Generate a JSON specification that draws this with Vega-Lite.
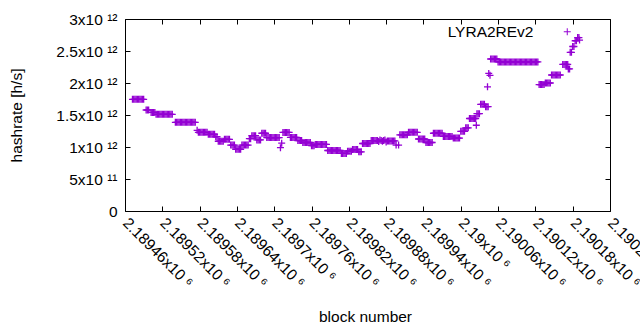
{
"$schema": "https://vega.github.io/schema/vega-lite/v6.json",
"width": 485, "height": 192,
"autosize": "none",
"padding": {"left": 125, "top": 19, "right": 30, "bottom": 119},
"background": "white",
"config": {"view": {"stroke": "#000", "strokeWidth": 1}, "font": "Liberation Sans",
  "axis": {"labelFont": "Liberation Sans", "titleFont": "Liberation Sans", "labelFontSize": 15.5, "titleFontSize": 15.5, "titleFontWeight": "normal", "labelColor": "#000", "titleColor": "#000", "tickColor": "#000", "grid": false, "domain": false},
  "legend": {"labelFont": "Liberation Sans", "labelFontSize": 15.5, "labelColor": "#000"}},
"data": {"values": [
{"b":2189472,"h":1.745e12},{"b":2189474,"h":1.745e12},{"b":2189476,"h":1.745e12},{"b":2189478,"h":1.745e12},{"b":2189480,"h":1.745e12},{"b":2189482,"h":1.745e12},{"b":2189484,"h":1.745e12},{"b":2189486,"h":1.745e12},{"b":2189488,"h":1.745e12},{"b":2189490,"h":1.745e12},
{"b":2189494,"h":1.578e12},{"b":2189496,"h":1.578e12},{"b":2189498,"h":1.578e12},
{"b":2189502,"h":1.54e12},{"b":2189504,"h":1.54e12},{"b":2189506,"h":1.54e12},{"b":2189508,"h":1.54e12},
{"b":2189510,"h":1.51e12},{"b":2189512,"h":1.51e12},{"b":2189514,"h":1.51e12},{"b":2189516,"h":1.51e12},{"b":2189518,"h":1.51e12},{"b":2189520,"h":1.51e12},{"b":2189522,"h":1.51e12},{"b":2189524,"h":1.51e12},{"b":2189526,"h":1.51e12},{"b":2189528,"h":1.51e12},{"b":2189530,"h":1.51e12},{"b":2189532,"h":1.51e12},{"b":2189534,"h":1.51e12},{"b":2189536,"h":1.51e12},
{"b":2189541,"h":1.385e12},{"b":2189543,"h":1.385e12},{"b":2189545,"h":1.385e12},{"b":2189547,"h":1.385e12},{"b":2189549,"h":1.385e12},{"b":2189551,"h":1.385e12},{"b":2189553,"h":1.385e12},{"b":2189555,"h":1.385e12},{"b":2189557,"h":1.385e12},{"b":2189559,"h":1.385e12},{"b":2189561,"h":1.385e12},{"b":2189563,"h":1.385e12},{"b":2189565,"h":1.385e12},{"b":2189567,"h":1.385e12},{"b":2189569,"h":1.385e12},{"b":2189571,"h":1.385e12},{"b":2189573,"h":1.385e12},
{"b":2189576,"h":1.26e12},
{"b":2189578,"h":1.23e12},{"b":2189580,"h":1.23e12},{"b":2189582,"h":1.23e12},{"b":2189584,"h":1.23e12},{"b":2189586,"h":1.23e12},{"b":2189588,"h":1.23e12},{"b":2189590,"h":1.23e12},{"b":2189592,"h":1.23e12},
{"b":2189594,"h":1.198e12},{"b":2189596,"h":1.198e12},{"b":2189598,"h":1.198e12},{"b":2189600,"h":1.198e12},{"b":2189602,"h":1.198e12},{"b":2189604,"h":1.198e12},
{"b":2189606,"h":1.16e12},{"b":2189608,"h":1.16e12},
{"b":2189610,"h":1.09e12},{"b":2189612,"h":1.09e12},{"b":2189614,"h":1.09e12},{"b":2189616,"h":1.09e12},{"b":2189618,"h":1.09e12},
{"b":2189620,"h":1.12e12},{"b":2189622,"h":1.12e12},{"b":2189624,"h":1.12e12},{"b":2189626,"h":1.12e12},{"b":2189628,"h":1.12e12},
{"b":2189630,"h":1.03e12},{"b":2189632,"h":1.03e12},{"b":2189634,"h":1.03e12},{"b":2189636,"h":1.03e12},
{"b":2189638,"h":0.965e12},{"b":2189640,"h":0.965e12},{"b":2189642,"h":0.965e12},{"b":2189644,"h":0.965e12},{"b":2189646,"h":0.965e12},
{"b":2189648,"h":1.03e12},{"b":2189650,"h":1.03e12},{"b":2189652,"h":1.03e12},{"b":2189654,"h":1.03e12},{"b":2189656,"h":1.03e12},{"b":2189658,"h":1.03e12},
{"b":2189660,"h":1.13e12},{"b":2189662,"h":1.13e12},
{"b":2189664,"h":1.177e12},{"b":2189666,"h":1.177e12},{"b":2189668,"h":1.177e12},{"b":2189670,"h":1.177e12},
{"b":2189672,"h":1.11e12},{"b":2189674,"h":1.11e12},{"b":2189676,"h":1.11e12},{"b":2189678,"h":1.11e12},
{"b":2189680,"h":1.215e12},{"b":2189682,"h":1.215e12},{"b":2189684,"h":1.215e12},{"b":2189686,"h":1.215e12},
{"b":2189688,"h":1.148e12},{"b":2189690,"h":1.148e12},{"b":2189692,"h":1.148e12},{"b":2189694,"h":1.148e12},{"b":2189696,"h":1.148e12},{"b":2189698,"h":1.148e12},{"b":2189700,"h":1.148e12},{"b":2189702,"h":1.148e12},{"b":2189704,"h":1.148e12},{"b":2189706,"h":1.148e12},{"b":2189708,"h":1.148e12},
{"b":2189710,"h":0.99e12},{"b":2189712,"h":1.06e12},
{"b":2189714,"h":1.228e12},{"b":2189716,"h":1.228e12},{"b":2189718,"h":1.228e12},{"b":2189720,"h":1.228e12},{"b":2189722,"h":1.228e12},{"b":2189724,"h":1.228e12},
{"b":2189726,"h":1.15e12},{"b":2189728,"h":1.15e12},{"b":2189730,"h":1.15e12},{"b":2189732,"h":1.15e12},{"b":2189734,"h":1.15e12},{"b":2189736,"h":1.15e12},
{"b":2189738,"h":1.1e12},{"b":2189740,"h":1.1e12},{"b":2189742,"h":1.1e12},{"b":2189744,"h":1.1e12},
{"b":2189746,"h":1.07e12},{"b":2189748,"h":1.07e12},{"b":2189750,"h":1.07e12},{"b":2189752,"h":1.07e12},{"b":2189754,"h":1.07e12},{"b":2189756,"h":1.07e12},{"b":2189758,"h":1.07e12},
{"b":2189760,"h":1.02e12},{"b":2189762,"h":1.02e12},{"b":2189764,"h":1.02e12},
{"b":2189766,"h":1.04e12},{"b":2189768,"h":1.04e12},{"b":2189770,"h":1.04e12},{"b":2189772,"h":1.04e12},{"b":2189774,"h":1.04e12},{"b":2189776,"h":1.04e12},{"b":2189778,"h":1.04e12},{"b":2189780,"h":1.04e12},{"b":2189782,"h":1.04e12},{"b":2189784,"h":1.04e12},
{"b":2189786,"h":0.945e12},{"b":2189788,"h":0.945e12},{"b":2189790,"h":0.945e12},{"b":2189792,"h":0.945e12},{"b":2189794,"h":0.945e12},{"b":2189796,"h":0.945e12},{"b":2189798,"h":0.945e12},{"b":2189800,"h":0.945e12},{"b":2189802,"h":0.945e12},{"b":2189804,"h":0.945e12},{"b":2189806,"h":0.945e12},
{"b":2189808,"h":0.9e12},{"b":2189810,"h":0.9e12},{"b":2189812,"h":0.9e12},{"b":2189814,"h":0.9e12},{"b":2189816,"h":0.9e12},
{"b":2189818,"h":0.935e12},{"b":2189820,"h":0.935e12},{"b":2189822,"h":0.935e12},{"b":2189824,"h":0.935e12},
{"b":2189826,"h":0.96e12},{"b":2189828,"h":0.96e12},{"b":2189830,"h":0.96e12},{"b":2189832,"h":0.96e12},{"b":2189834,"h":0.96e12},
{"b":2189836,"h":0.925e12},{"b":2189838,"h":0.925e12},{"b":2189840,"h":0.925e12},
{"b":2189842,"h":1.055e12},{"b":2189844,"h":1.055e12},{"b":2189846,"h":1.055e12},{"b":2189848,"h":1.055e12},{"b":2189850,"h":1.055e12},{"b":2189852,"h":1.055e12},{"b":2189854,"h":1.055e12},
{"b":2189856,"h":1.1e12},{"b":2189858,"h":1.1e12},{"b":2189860,"h":1.1e12},{"b":2189862,"h":1.1e12},{"b":2189864,"h":1.1e12},
{"b":2189866,"h":1.1e12},{"b":2189868,"h":1.085e12},{"b":2189870,"h":1.11e12},{"b":2189872,"h":1.1e12},{"b":2189874,"h":1.09e12},{"b":2189876,"h":1.1e12},{"b":2189878,"h":1.11e12},{"b":2189880,"h":1.08e12},
{"b":2189882,"h":1.095e12},{"b":2189884,"h":1.095e12},{"b":2189886,"h":1.095e12},{"b":2189888,"h":1.095e12},{"b":2189890,"h":1.095e12},{"b":2189892,"h":1.095e12},{"b":2189894,"h":1.095e12},
{"b":2189896,"h":1.03e12},{"b":2189900,"h":1.03e12},
{"b":2189902,"h":1.19e12},{"b":2189904,"h":1.19e12},{"b":2189906,"h":1.19e12},{"b":2189908,"h":1.19e12},{"b":2189910,"h":1.19e12},{"b":2189912,"h":1.19e12},{"b":2189914,"h":1.19e12},
{"b":2189916,"h":1.23e12},{"b":2189918,"h":1.23e12},{"b":2189920,"h":1.23e12},{"b":2189922,"h":1.23e12},{"b":2189924,"h":1.23e12},{"b":2189926,"h":1.23e12},{"b":2189928,"h":1.23e12},{"b":2189930,"h":1.23e12},
{"b":2189932,"h":1.125e12},{"b":2189934,"h":1.125e12},{"b":2189936,"h":1.125e12},{"b":2189938,"h":1.125e12},{"b":2189940,"h":1.125e12},{"b":2189942,"h":1.125e12},
{"b":2189944,"h":1.07e12},{"b":2189946,"h":1.07e12},{"b":2189948,"h":1.07e12},{"b":2189950,"h":1.07e12},{"b":2189952,"h":1.07e12},{"b":2189954,"h":1.07e12},
{"b":2189956,"h":1.215e12},{"b":2189958,"h":1.215e12},{"b":2189960,"h":1.215e12},{"b":2189962,"h":1.215e12},{"b":2189964,"h":1.215e12},{"b":2189966,"h":1.215e12},{"b":2189968,"h":1.215e12},{"b":2189970,"h":1.215e12},
{"b":2189972,"h":1.165e12},{"b":2189974,"h":1.165e12},{"b":2189976,"h":1.165e12},{"b":2189978,"h":1.165e12},{"b":2189980,"h":1.165e12},{"b":2189982,"h":1.165e12},{"b":2189984,"h":1.165e12},{"b":2189986,"h":1.165e12},
{"b":2189988,"h":1.14e12},{"b":2189990,"h":1.14e12},{"b":2189992,"h":1.14e12},{"b":2189994,"h":1.14e12},{"b":2189996,"h":1.14e12},{"b":2189998,"h":1.14e12},
{"b":2190000,"h":1.245e12},{"b":2190002,"h":1.245e12},{"b":2190004,"h":1.245e12},{"b":2190006,"h":1.245e12},
{"b":2190008,"h":1.3e12},{"b":2190010,"h":1.3e12},{"b":2190012,"h":1.3e12},
{"b":2190014,"h":1.445e12},{"b":2190016,"h":1.445e12},{"b":2190018,"h":1.445e12},{"b":2190020,"h":1.445e12},{"b":2190022,"h":1.445e12},{"b":2190024,"h":1.445e12},
{"b":2190025,"h":1.34e12},
{"b":2190026,"h":1.52e12},{"b":2190028,"h":1.52e12},{"b":2190030,"h":1.52e12},
{"b":2190032,"h":1.667e12},{"b":2190034,"h":1.667e12},{"b":2190036,"h":1.667e12},{"b":2190038,"h":1.667e12},
{"b":2190040,"h":1.63e12},{"b":2190042,"h":1.63e12},{"b":2190044,"h":1.63e12},
{"b":2190043,"h":1.94e12},
{"b":2190045,"h":2.15e12},{"b":2190047,"h":2.12e12},
{"b":2190048,"h":2.375e12},{"b":2190050,"h":2.375e12},{"b":2190052,"h":2.375e12},{"b":2190054,"h":2.375e12},{"b":2190056,"h":2.375e12},{"b":2190058,"h":2.375e12},
{"b":2190060,"h":2.33e12},{"b":2190062,"h":2.33e12},{"b":2190064,"h":2.33e12},{"b":2190066,"h":2.33e12},{"b":2190068,"h":2.33e12},{"b":2190070,"h":2.33e12},{"b":2190072,"h":2.33e12},{"b":2190074,"h":2.33e12},{"b":2190076,"h":2.33e12},{"b":2190078,"h":2.33e12},{"b":2190080,"h":2.33e12},{"b":2190082,"h":2.33e12},{"b":2190084,"h":2.33e12},{"b":2190086,"h":2.33e12},{"b":2190088,"h":2.33e12},{"b":2190090,"h":2.33e12},{"b":2190092,"h":2.33e12},{"b":2190094,"h":2.33e12},{"b":2190096,"h":2.33e12},{"b":2190098,"h":2.33e12},{"b":2190100,"h":2.33e12},{"b":2190102,"h":2.33e12},{"b":2190104,"h":2.33e12},{"b":2190106,"h":2.33e12},{"b":2190108,"h":2.33e12},{"b":2190110,"h":2.33e12},{"b":2190112,"h":2.33e12},{"b":2190114,"h":2.33e12},{"b":2190116,"h":2.33e12},{"b":2190118,"h":2.33e12},{"b":2190120,"h":2.33e12},{"b":2190122,"h":2.33e12},{"b":2190124,"h":2.33e12},
{"b":2190126,"h":1.975e12},{"b":2190128,"h":1.975e12},{"b":2190130,"h":1.975e12},{"b":2190132,"h":1.975e12},{"b":2190134,"h":1.975e12},
{"b":2190136,"h":2.0e12},{"b":2190138,"h":2.0e12},{"b":2190140,"h":2.0e12},{"b":2190142,"h":2.0e12},{"b":2190144,"h":2.0e12},
{"b":2190146,"h":2.125e12},{"b":2190148,"h":2.125e12},{"b":2190150,"h":2.125e12},{"b":2190152,"h":2.125e12},{"b":2190154,"h":2.125e12},{"b":2190156,"h":2.125e12},{"b":2190158,"h":2.125e12},{"b":2190160,"h":2.125e12},
{"b":2190164,"h":2.29e12},{"b":2190166,"h":2.29e12},{"b":2190168,"h":2.29e12},{"b":2190170,"h":2.29e12},{"b":2190172,"h":2.29e12},
{"b":2190173,"h":2.22e12},{"b":2190175,"h":2.22e12},
{"b":2190176,"h":2.48e12},{"b":2190178,"h":2.48e12},
{"b":2190180,"h":2.57e12},{"b":2190182,"h":2.57e12},
{"b":2190184,"h":2.66e12},{"b":2190186,"h":2.66e12},
{"b":2190188,"h":2.71e12},{"b":2190190,"h":2.71e12},
{"b":2190191,"h":2.67e12}
]},
"layer": [
 {"mark": {"type": "point", "shape": "M-1,0L1,0M0,-1L0,1", "size": 49, "filled": false, "strokeWidth": 1.3, "opacity": 1},
  "encoding": {
   "x": {"field": "b", "type": "quantitative", "scale": {"domain": [2189460, 2190240], "nice": false, "zero": false},
     "axis": {"orient": "bottom", "values": [2189460,2189520,2189580,2189640,2189700,2189760,2189820,2189880,2189940,2190000,2190060,2190120,2190180,2190240],
       "labelExpr": "format(datum.value/1000000, '.5~f') + 'x10 ⁶'",
       "labelAngle": 45, "labelAlign": "left", "labelBaseline": "middle", "labelPadding": 14, "labelOverlap": false, "labelBound": false, "labelFlush": false,
       "tickSize": -5, "title": "block number", "titleX": 240, "titleY": 110, "titleBaseline": "alphabetic", "titleAlign": "center"}},
   "y": {"field": "h", "type": "quantitative", "scale": {"domain": [0, 3e12], "nice": false, "zero": true},
     "axis": {"orient": "left", "values": [0, 5e11, 1e12, 1.5e12, 2e12, 2.5e12, 3e12],
       "labelExpr": "datum.value == 0 ? '0' : (datum.value < 1e12 ? format(datum.value/1e11, '~g') + 'x10 ¹¹' : format(datum.value/1e12, '~g') + 'x10 ¹²')",
       "labelPadding": 13, "labelOverlap": false, "labelFlush": false, "labelBaseline": "middle",
       "tickSize": -5, "title": "hashrate [h/s]", "titleX": -104, "titleY": 96, "titleAngle": -90, "titleAlign": "center", "titleBaseline": "alphabetic"}},
   "color": {"datum": "LYRA2REv2", "type": "nominal", "scale": {"range": ["#9400d3"]},
     "legend": {"orient": "none", "legendX": 434.5, "legendY": 5, "title": null, "padding": 0,
       "symbolType": "M-1,0L1,0M0,-1L0,1", "symbolSize": 49, "symbolStrokeWidth": 1, "symbolFillColor": "transparent",
       "labelAlign": "right", "labelOffset": -41.5, "labelFontSize": 15.5, "labelFont": "Liberation Sans", "labelColor": "#000", "labelLimit": 300}}
  }},
 {"mark": {"type": "point", "opacity": 0},
  "encoding": {
   "x": {"field": "b", "type": "quantitative", "scale": {"domain": [2189460, 2190240], "nice": false, "zero": false},
     "axis": {"orient": "top", "values": [2189460,2189520,2189580,2189640,2189700,2189760,2189820,2189880,2189940,2190000,2190060,2190120,2190180,2190240], "labels": false, "tickSize": -5, "title": null}},
   "y": {"field": "h", "type": "quantitative", "scale": {"domain": [0, 3e12], "nice": false, "zero": true},
     "axis": {"orient": "right", "values": [0, 5e11, 1e12, 1.5e12, 2e12, 2.5e12, 3e12], "labels": false, "tickSize": -5, "title": null}}
  }}
],
"resolve": {"axis": {"x": "independent", "y": "independent"}}
}
